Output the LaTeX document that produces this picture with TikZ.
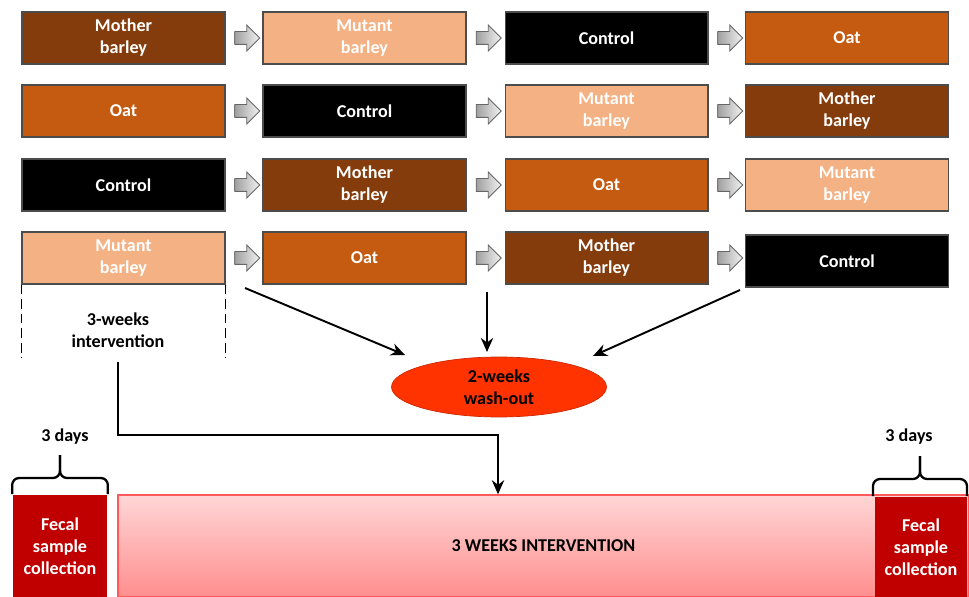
\documentclass[tikz,border=0pt]{standalone}
\usepackage{fontspec}
\setmainfont{Carlito}
\usepackage{tikz}
\usetikzlibrary{arrows.meta}
\usetikzlibrary{shapes.geometric}
\usetikzlibrary{shapes.arrows}

\definecolor{motherc}{HTML}{843C0C}
\definecolor{mutantc}{HTML}{F4B183}
\definecolor{oatc}{HTML}{C55A11}
\definecolor{fecalc}{HTML}{C00000}
\definecolor{washc}{HTML}{FF3300}
\definecolor{pinktop}{HTML}{FFD6D6}
\definecolor{pinkbot}{HTML}{FF8E8E}

\tikzset{
  txt/.style={font=\fontsize{10.3}{12.5}\selectfont\bfseries, align=center},
  diet/.style={txt, draw=black!70, line width=0.6pt, text=white, inner sep=0pt,
    minimum width=4.06cm, minimum height=1.04cm},
  mother/.style={diet, fill=motherc},
  mutant/.style={diet, fill=mutantc},
  oat/.style={diet, fill=oatc},
  ctrl/.style={diet, fill=black},
  grayarr/.style={single arrow, draw=black!60, line width=0.5pt, inner sep=0.12cm,
    single arrow head extend=0.13cm, minimum height=0.5cm,
    left color=gray!75, right color=gray!10},
  fecal/.style={txt, fill=fecalc, text=white, inner sep=0pt},
  blk/.style={line width=1.1pt, -{Stealth[length=8pt,width=7pt]}},
  brc/.style={line width=1.3pt, rounded corners=4}
}

\begin{document}
\begin{tikzpicture}[x=0.02cm,y=-0.02cm]
\useasboundingbox (0,0) rectangle (969,597);

% four orders of the diets
\node[mother] (r1c1) at (123.5,38) {Mother\\barley};
\node[mutant] (r1c2) at (364.5,38) {Mutant\\barley};
\node[ctrl]   (r1c3) at (606.5,38) {Control};
\node[oat]    (r1c4) at (847,38)   {Oat};

\node[oat]    (r2c1) at (123.5,111) {Oat};
\node[ctrl]   (r2c2) at (364.5,111) {Control};
\node[mutant] (r2c3) at (606.5,111) {Mutant\\barley};
\node[mother] (r2c4) at (847,111)   {Mother\\barley};

\node[ctrl]   (r3c1) at (123.5,185) {Control};
\node[mother] (r3c2) at (364.5,185) {Mother\\barley};
\node[oat]    (r3c3) at (606.5,185) {Oat};
\node[mutant] (r3c4) at (847,185)   {Mutant\\barley};

\node[mutant] (r4c1) at (123.5,258) {Mutant\\barley};
\node[oat]    (r4c2) at (364.5,258) {Oat};
\node[mother] (r4c3) at (606.5,258) {Mother\\barley};
\node[ctrl]   (r4c4) at (847,261)   {Control};

\foreach \r/\y in {1/38,2/111,3/185,4/258}
  \foreach \c/\x in {1/244,2/485.5,3/727}
    \node[grayarr] (a\r\c) at (\x,\y) {};

% one intervention period
\draw[line width=0.9pt, dash pattern=on 5.5pt off 2.8pt] (r4c1.south west) -- ++(0,73);
\draw[line width=0.9pt, dash pattern=on 5.5pt off 2.8pt] (r4c1.south east) -- ++(0,73);
\node[txt] (iv) at (118,330) {3-weeks\\intervention};

% wash-out
\node[ellipse, draw=washc!80!black, fill=washc, minimum width=4.3cm, minimum height=1.2cm,
  txt, inner sep=0pt] (wash) at (499,387) {2-weeks\\wash-out};
\coordinate (s1) at (245,288);
\coordinate (s2) at (487,292);
\coordinate (s3) at (740,290);
\coordinate (e1) at (405,355);
\coordinate (e3) at (593,356);
\draw[blk] (s1) -- (e1);
\draw[blk] (s2) -- (s2 |- 0,352);
\draw[blk] (s3) -- (e3);

% timeline
\node[txt, draw=red!65, line width=0.8pt, top color=pinktop, bottom color=pinkbot,
  minimum width=17.02cm, minimum height=2.04cm] (big) at (543.5,546)
  {3 WEEKS INTERVENTION};
\node[fecal, minimum width=1.9cm, minimum height=2.06cm] (fec1) at (60,546)
  {Fecal\\sample\\collection};
\node[fecal, minimum width=1.84cm, minimum height=2.02cm] (fec2) at (921,547)
  {Fecal\\sample\\collection};

\coordinate (ivs) at (118,362);
\coordinate (turn) at (498,435);
\draw[blk] (ivs) |- (turn) -- (turn |- big.north);

% braces
\draw[brc] (fec1.north west) |- (60,478) -- (60,455);
\draw[brc] (fec1.north east) |- (60,478) -- (60,455);
\draw[brc] (873,496) |- (920,479) -- (920,456);
\draw[brc] (967,496) |- (920,479) -- (920,456);
\node[txt] (d1) at (65,437) {3 days};
\node[txt] (d2) at (909,437) {3 days};
\end{tikzpicture}
\end{document}
